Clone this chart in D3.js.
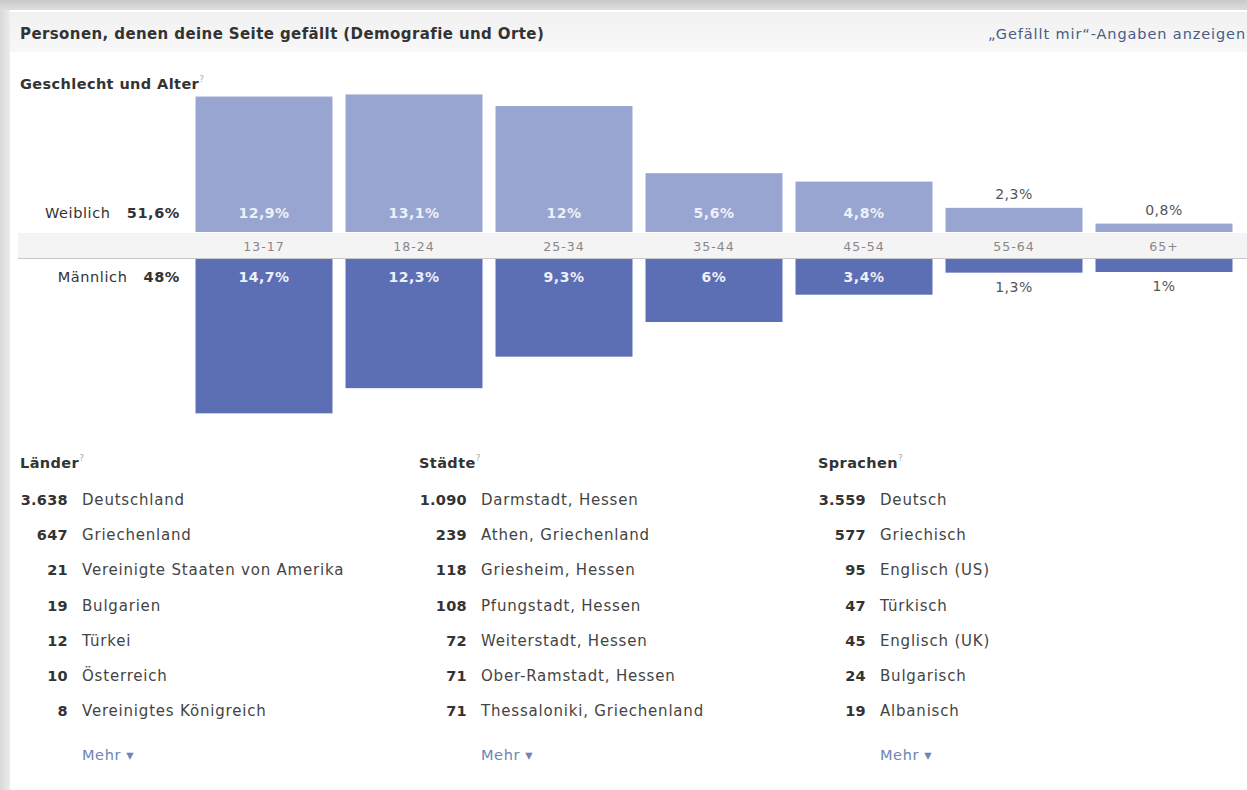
<!DOCTYPE html>
<html>
<head>
<meta charset="utf-8">
<script src="https://cdn.jsdelivr.net/npm/d3@7"></script>
<style>
  html, body { margin: 0; padding: 0; background: #fff; }
  svg { display: block; font-family: "DejaVu Sans", "Noto Sans", sans-serif; }
</style>
</head>
<body>
<div id="chart"></div>
<script>
// --- data ---
const ageGroups = ['13-17', '18-24', '25-34', '35-44', '45-54', '55-64', '65+'];
const femaleShares = [12.9, 13.1, 12, 5.6, 4.8, 2.3, 0.8];
const maleShares = [14.7, 12.3, 9.3, 6, 3.4, 1.3, 1];
const genderLabels = ['Weiblich', 'Männlich'];
const genderTotals = [51.6, 48];

const countryNames = ['Deutschland', 'Griechenland', 'Vereinigte Staaten von Amerika', 'Bulgarien', 'Türkei', 'Österreich', 'Vereinigtes Königreich'];
const countryCounts = [3638, 647, 21, 19, 12, 10, 8];
const cityNames = ['Darmstadt, Hessen', 'Athen, Griechenland', 'Griesheim, Hessen', 'Pfungstadt, Hessen', 'Weiterstadt, Hessen', 'Ober-Ramstadt, Hessen', 'Thessaloniki, Griechenland'];
const cityCounts = [1090, 239, 118, 108, 72, 71, 71];
const languageNames = ['Deutsch', 'Griechisch', 'Englisch (US)', 'Türkisch', 'Englisch (UK)', 'Bulgarisch', 'Albanisch'];
const languageCounts = [3559, 577, 95, 47, 45, 24, 19];
const sectionTitles = ['Länder', 'Städte', 'Sprachen'];

const width = 1247;
const height = 790;

const de = d3.formatLocale({ decimal: ',', thousands: '.', grouping: [3], currency: ['', ' €'] });
const fmtCount = de.format(',d');
const fmtPct = (v) => de.format('~r')(v) + '%';

const svg = d3.select('#chart').append('svg')
  .attr('width', width)
  .attr('height', height);

const defs = svg.append('defs');
const topGrad = defs.append('linearGradient').attr('id', 'top-grad').attr('x1', 0).attr('x2', 0).attr('y1', 0).attr('y2', 1);
topGrad.append('stop').attr('offset', '0%').attr('stop-color', '#c9c9c9');
topGrad.append('stop').attr('offset', '100%').attr('stop-color', '#dedede');
const leftGrad = defs.append('linearGradient').attr('id', 'left-grad').attr('x1', 0).attr('x2', 1);
leftGrad.append('stop').attr('offset', '0%').attr('stop-color', '#d8d8d8');
leftGrad.append('stop').attr('offset', '100%').attr('stop-color', '#ececec');
const headGrad = defs.append('linearGradient').attr('id', 'head-grad').attr('x1', 0).attr('x2', 0).attr('y1', 0).attr('y2', 1);
headGrad.append('stop').attr('offset', '0%').attr('stop-color', '#f1f1f1');
headGrad.append('stop').attr('offset', '100%').attr('stop-color', '#f8f8f8');

// page frame
svg.append('rect').attr('width', width).attr('height', height).attr('fill', '#fff');
svg.append('rect').attr('x', 0).attr('y', 0).attr('width', 10).attr('height', height).attr('fill', 'url(#left-grad)');
svg.append('rect').attr('x', 0).attr('y', 0).attr('width', width).attr('height', 10).attr('fill', 'url(#top-grad)');
svg.append('rect').attr('x', 10).attr('y', 12).attr('width', width - 10).attr('height', 40).attr('fill', 'url(#head-grad)');

svg.append('text')
  .attr('x', 20).attr('y', 39)
  .attr('font-size', 15).attr('font-weight', 'bold').attr('fill', '#333')
  .attr('letter-spacing', 0.4)
  .text('Personen, denen deine Seite gefällt (Demografie und Orte)');

svg.append('text')
  .attr('x', 1246).attr('y', 39)
  .attr('text-anchor', 'end')
  .attr('font-size', 14.5).attr('fill', '#4a5b88')
  .attr('letter-spacing', 0.9)
  .text('„Gefällt mir“-Angaben anzeigen');

const sectionHeader = (x, y, label) => {
  const t = svg.append('text').attr('x', x).attr('y', y)
    .attr('font-size', 14.5).attr('font-weight', 'bold').attr('fill', '#333')
    .attr('letter-spacing', 0.4);
  t.append('tspan').text(label);
  t.append('tspan').attr('dy', -7).attr('font-size', 9).attr('font-weight', 'normal').attr('fill', '#aaa').text('?');
};

sectionHeader(20, 89, 'Geschlecht und Alter');

// --- gender / age bars ---
const x = d3.scaleBand()
  .domain(ageGroups)
  .range([189, 1239])
  .paddingInner(0.087)
  .paddingOuter(0.0435);

const baseFemale = 232;
const baseMale = 259;
const pxPerPct = 10.5;
const yFemale = d3.scaleLinear().domain([0, 15]).range([baseFemale, baseFemale - 15 * pxPerPct]);
const yMale = d3.scaleLinear().domain([0, 15]).range([baseMale, baseMale + 15 * pxPerPct]);
const minBar = 13;

const rows = ageGroups.map((age, i) => ({ age, female: femaleShares[i], male: maleShares[i] }));

// age band
svg.append('rect').attr('x', 18).attr('y', 233).attr('width', width - 18).attr('height', 25).attr('fill', '#f4f4f4');
svg.append('line').attr('x1', 18).attr('x2', width).attr('y1', 258.5).attr('y2', 258.5).attr('stroke', '#c9c9c9');

const bars = svg.append('g');

bars.selectAll('rect.female').data(rows).join('rect')
  .attr('class', 'female')
  .attr('x', (d) => x(d.age))
  .attr('width', x.bandwidth())
  .attr('y', (d) => yFemale(d.female))
  .attr('height', (d) => baseFemale - yFemale(d.female))
  .attr('fill', '#99a5d1');

bars.selectAll('rect.male').data(rows).join('rect')
  .attr('class', 'male')
  .attr('x', (d) => x(d.age))
  .attr('width', x.bandwidth())
  .attr('y', baseMale)
  .attr('height', (d) => Math.max(minBar, yMale(d.male) - baseMale))
  .attr('fill', '#5c6eb4');

const inside = 30;
const fIn = (d) => baseFemale - yFemale(d.female) > inside;
const mIn = (d) => yMale(d.male) - baseMale > inside;

bars.selectAll('text.flab').data(rows).join('text')
  .attr('class', 'flab')
  .attr('x', (d) => x(d.age) + x.bandwidth() / 2)
  .attr('y', (d) => (fIn(d) ? baseFemale - 14 : yFemale(d.female) - 9))
  .attr('text-anchor', 'middle')
  .attr('font-size', 14)
  .attr('letter-spacing', 0.5)
  .attr('font-weight', (d) => (fIn(d) ? 'bold' : 'normal'))
  .attr('fill', (d) => (fIn(d) ? '#eef0f8' : '#555'))
  .text((d) => fmtPct(d.female));

bars.selectAll('text.mlab').data(rows).join('text')
  .attr('class', 'mlab')
  .attr('x', (d) => x(d.age) + x.bandwidth() / 2)
  .attr('y', (d) => (mIn(d) ? baseMale + 23 : Math.max(baseMale + minBar, yMale(d.male)) + 19))
  .attr('text-anchor', 'middle')
  .attr('font-size', 14)
  .attr('letter-spacing', 0.5)
  .attr('font-weight', (d) => (mIn(d) ? 'bold' : 'normal'))
  .attr('fill', (d) => (mIn(d) ? '#eef0f8' : '#555'))
  .text((d) => fmtPct(d.male));

bars.selectAll('text.age').data(rows).join('text')
  .attr('class', 'age')
  .attr('x', (d) => x(d.age) + x.bandwidth() / 2)
  .attr('y', 251)
  .attr('text-anchor', 'middle')
  .attr('font-size', 12.5)
  .attr('letter-spacing', 1)
  .attr('fill', '#888')
  .text((d) => d.age);

// gender totals at the left
const genderY = [baseFemale - 14, baseMale + 23];
genderLabels.forEach((label, i) => {
  const t = svg.append('text').attr('x', 180).attr('y', genderY[i])
    .attr('text-anchor', 'end').attr('font-size', 14.5).attr('fill', '#333')
    .attr('letter-spacing', 0.6)
    .attr('xml:space', 'preserve');
  t.append('tspan').text(label + '  ');
  t.append('tspan').attr('font-weight', 'bold').text(' ' + fmtPct(genderTotals[i]));
});

// --- top lists ---
const sections = [
  { title: sectionTitles[0], names: countryNames, counts: countryCounts },
  { title: sectionTitles[1], names: cityNames, counts: cityCounts },
  { title: sectionTitles[2], names: languageNames, counts: languageCounts }
];

const colX = d3.scaleLinear().domain([0, 2]).range([20, 818]);
const rowY = d3.scaleLinear().domain([0, 6]).range([505, 716]);

sections.forEach((s, ci) => {
  const x0 = colX(ci);
  sectionHeader(x0, 468, s.title);

  const g = svg.append('g');
  const items = s.names.map((name, i) => ({ name, count: s.counts[i], i }));

  g.selectAll('text.count').data(items).join('text')
    .attr('class', 'count')
    .attr('x', x0 + 48)
    .attr('y', (d) => rowY(d.i))
    .attr('text-anchor', 'end')
    .attr('font-size', 14.5).attr('font-weight', 'bold').attr('fill', '#333')
    .attr('letter-spacing', 0.3)
    .text((d) => fmtCount(d.count));

  g.selectAll('text.name').data(items).join('text')
    .attr('class', 'name')
    .attr('x', x0 + 62)
    .attr('y', (d) => rowY(d.i))
    .attr('font-size', 15).attr('fill', '#444')
    .attr('letter-spacing', 0.8)
    .text((d) => d.name);

  g.append('text')
    .attr('x', x0 + 62)
    .attr('y', 760)
    .attr('font-size', 14.5).attr('fill', '#6d84b4')
    .attr('letter-spacing', 0.6)
    .text('Mehr ▾');
});
</script>
</body>
</html>
